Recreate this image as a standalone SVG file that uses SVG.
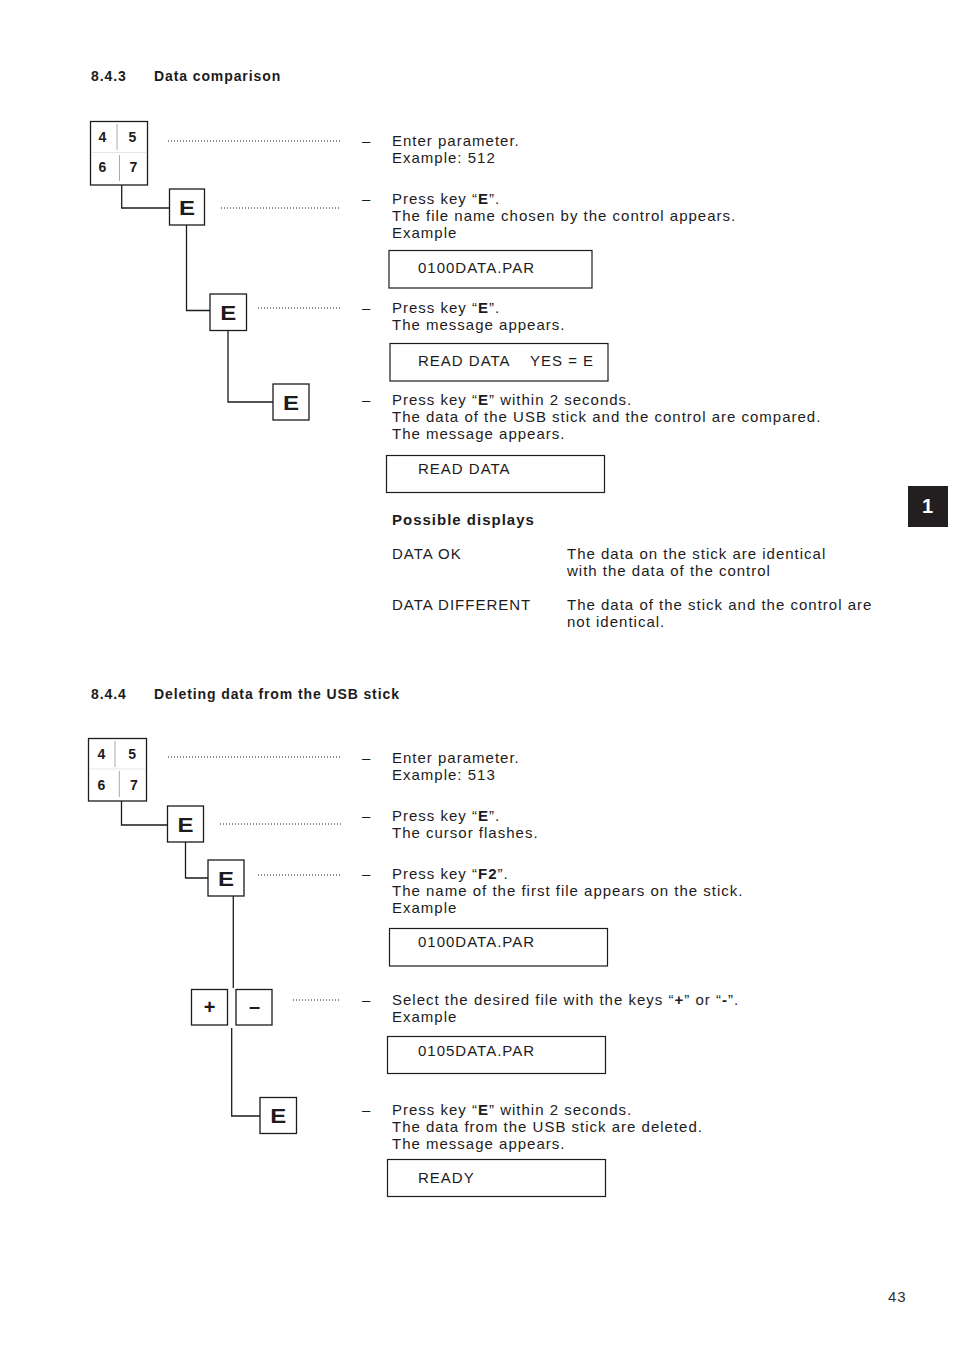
<svg xmlns="http://www.w3.org/2000/svg" width="954" height="1348" viewBox="0 0 954 1348">
<style>
text{font-family:"Liberation Sans",Arial,sans-serif;fill:#1d1b1c}
.b{font-size:15px;letter-spacing:1px}
.h{font-size:14px;font-weight:bold;letter-spacing:0.9px}
.k{font-size:14px;font-weight:bold}
.e{font-size:20px;font-weight:bold}
.box{fill:#fff;stroke:#1d1b1c;stroke-width:1.3}
.disp{fill:none;stroke:#1d1b1c;stroke-width:1.2}
.ln{fill:none;stroke:#1d1b1c;stroke-width:1.3}
.dot{fill:none;stroke:#1d1b1c;stroke-width:1;stroke-dasharray:1 2}
.div{stroke:#aaa;stroke-width:1}
</style>
<rect width="954" height="1348" fill="#fff"/>

<!-- headings -->
<text class="h" x="91" y="81">8.4.3</text>
<text class="h" x="154" y="81">Data comparison</text>
<text class="h" x="91" y="699">8.4.4</text>
<text class="h" x="154" y="699">Deleting data from the USB stick</text>

<!-- connectors -->
<g id="connectors">
<polyline class="ln" points="121.7,185 121.7,208 170,208"/>
<polyline class="ln" points="186.5,225 186.5,310.5 210,310.5"/>
<polyline class="ln" points="228,331 228,402 273,402"/>
<polyline class="ln" points="121.5,801 121.5,825 167.5,825"/>
<polyline class="ln" points="185.5,842 185.5,878 208,878"/>
<line class="ln" x1="233.3" y1="896" x2="233.3" y2="988"/>
<polyline class="ln" points="231.7,1028 231.7,1116 260,1116"/>
<line class="dot" x1="168" y1="141" x2="341" y2="141"/>
<line class="dot" x1="221" y1="208" x2="341" y2="208"/>
<line class="dot" x1="258" y1="308" x2="342" y2="308"/>
<line class="dot" x1="168" y1="757" x2="341" y2="757"/>
<line class="dot" x1="220" y1="824" x2="341" y2="824"/>
<line class="dot" x1="258" y1="875" x2="342" y2="875"/>
<line class="dot" x1="293" y1="1000" x2="341" y2="1000"/>
</g>

<!-- section 1 nodes -->
<g id="keypad1">
<rect class="box" x="90.5" y="121.5" width="57" height="63.5"/>
<line class="div" x1="117" y1="124" x2="117" y2="150"/>
<line class="div" x1="119.5" y1="155" x2="119.5" y2="181"/>
<line stroke="#e6e6e6" stroke-width="1" x1="92" y1="152.5" x2="146" y2="152.5"/>
<text class="k" x="98.5" y="142.3">4</text>
<text class="k" x="128.5" y="142.3">5</text>
<text class="k" x="98.5" y="172.3">6</text>
<text class="k" x="129.5" y="172.3">7</text>
</g>
<g id="e1"><rect class="box" x="169.5" y="189" width="35" height="36"/><text class="e" x="187" y="215" text-anchor="middle" textLength="16" lengthAdjust="spacingAndGlyphs">E</text></g>
<g id="e2"><rect class="box" x="210" y="294" width="36.5" height="36.5"/><text class="e" x="228.3" y="319.5" text-anchor="middle" textLength="16" lengthAdjust="spacingAndGlyphs">E</text></g>
<g id="e3"><rect class="box" x="273" y="384" width="36" height="36"/><text class="e" x="291" y="409.5" text-anchor="middle" textLength="16" lengthAdjust="spacingAndGlyphs">E</text></g>

<!-- section 1 text -->
<g id="step1a">
<text class="b" x="362" y="146">–</text>
<text class="b" x="392" y="146">Enter parameter.</text>
<text class="b" x="392" y="163">Example: 512</text>
</g>
<g id="step1b">
<text class="b" x="362" y="204">–</text>
<text class="b" x="392" y="204">Press key “<tspan font-weight="bold">E</tspan>”.</text>
<text class="b" x="392" y="221">The file name chosen by the control appears.</text>
<text class="b" x="392" y="238">Example</text>
<rect class="disp" x="389" y="250.5" width="203" height="37.5"/>
<text class="b" x="418" y="272.5">0100DATA.PAR</text>
</g>
<g id="step1c">
<text class="b" x="362" y="313">–</text>
<text class="b" x="392" y="313">Press key “<tspan font-weight="bold">E</tspan>”.</text>
<text class="b" x="392" y="330">The message appears.</text>
<rect class="disp" x="390" y="343.5" width="218" height="37.5"/>
<text class="b" x="418" y="365.5">READ DATA<tspan x="530">YES = E</tspan></text>
</g>
<g id="step1d">
<text class="b" x="362" y="405">–</text>
<text class="b" x="392" y="405">Press key “<tspan font-weight="bold">E</tspan>” within 2 seconds.</text>
<text class="b" x="392" y="422">The data of the USB stick and the control are compared.</text>
<text class="b" x="392" y="439">The message appears.</text>
<rect class="disp" x="386.5" y="455.5" width="218" height="37"/>
<text class="b" x="418" y="474">READ DATA</text>
</g>
<g id="displays">
<text class="b" x="392" y="525" font-weight="bold">Possible displays</text>
<text class="b" x="392" y="559">DATA OK</text>
<text class="b" x="567" y="559">The data on the stick are identical</text>
<text class="b" x="567" y="576">with the data of the control</text>
<text class="b" x="392" y="610">DATA DIFFERENT</text>
<text class="b" x="567" y="610">The data of the stick and the control are</text>
<text class="b" x="567" y="627">not identical.</text>
</g>

<!-- tab -->
<g id="tab">
<rect x="908" y="486" width="40" height="41" fill="#231f20"/>
<text x="927.5" y="513" text-anchor="middle" font-size="20" font-weight="bold" style="fill:#fff">1</text>
</g>

<!-- section 2 nodes -->
<g id="keypad2">
<rect class="box" x="88.5" y="738.5" width="58" height="62.5"/>
<line class="div" x1="115" y1="741" x2="115" y2="767"/>
<line class="div" x1="119.3" y1="771" x2="119.3" y2="797"/>
<line stroke="#e6e6e6" stroke-width="1" x1="90" y1="769" x2="145" y2="769"/>
<text class="k" x="97.5" y="759">4</text>
<text class="k" x="128.3" y="759">5</text>
<text class="k" x="97.5" y="790">6</text>
<text class="k" x="130" y="790">7</text>
</g>
<g id="e4"><rect class="box" x="167.5" y="806" width="36" height="36"/><text class="e" x="185.5" y="831.5" text-anchor="middle" textLength="16" lengthAdjust="spacingAndGlyphs">E</text></g>
<g id="e5"><rect class="box" x="208" y="860" width="36" height="36"/><text class="e" x="226" y="885.5" text-anchor="middle" textLength="16" lengthAdjust="spacingAndGlyphs">E</text></g>
<g id="plus"><rect class="box" x="191.5" y="989.5" width="36" height="35.5"/><text class="e" x="209.5" y="1014" text-anchor="middle">+</text></g>
<g id="minus"><rect class="box" x="236" y="989.5" width="36" height="35.5"/><text class="e" x="254.5" y="1013" text-anchor="middle">–</text></g>
<g id="e6"><rect class="box" x="260" y="1097.5" width="36.5" height="36"/><text class="e" x="278.3" y="1123" text-anchor="middle" textLength="16" lengthAdjust="spacingAndGlyphs">E</text></g>

<!-- section 2 text -->
<g id="step2a">
<text class="b" x="362" y="763">–</text>
<text class="b" x="392" y="763">Enter parameter.</text>
<text class="b" x="392" y="780">Example: 513</text>
</g>
<g id="step2b">
<text class="b" x="362" y="821">–</text>
<text class="b" x="392" y="821">Press key “<tspan font-weight="bold">E</tspan>”.</text>
<text class="b" x="392" y="838">The cursor flashes.</text>
</g>
<g id="step2c">
<text class="b" x="362" y="879">–</text>
<text class="b" x="392" y="879">Press key “<tspan font-weight="bold">F2</tspan>”.</text>
<text class="b" x="392" y="896">The name of the first file appears on the stick.</text>
<text class="b" x="392" y="913">Example</text>
<rect class="disp" x="389.5" y="928.5" width="218" height="37.5"/>
<text class="b" x="418" y="947">0100DATA.PAR</text>
</g>
<g id="step2d">
<text class="b" x="362" y="1005">–</text>
<text class="b" x="392" y="1005">Select the desired file with the keys “<tspan font-weight="bold">+</tspan>” or “<tspan font-weight="bold">-</tspan>”.</text>
<text class="b" x="392" y="1022">Example</text>
<rect class="disp" x="387.5" y="1036.5" width="218" height="37"/>
<text class="b" x="418" y="1056">0105DATA.PAR</text>
</g>
<g id="step2e">
<text class="b" x="362" y="1115">–</text>
<text class="b" x="392" y="1115">Press key “<tspan font-weight="bold">E</tspan>” within 2 seconds.</text>
<text class="b" x="392" y="1132">The data from the USB stick are deleted.</text>
<text class="b" x="392" y="1149">The message appears.</text>
<rect class="disp" x="387.5" y="1159.5" width="218" height="37"/>
<text class="b" x="418" y="1183">READY</text>
</g>

<text class="b" x="888" y="1302" style="fill:#333">43</text>
</svg>
